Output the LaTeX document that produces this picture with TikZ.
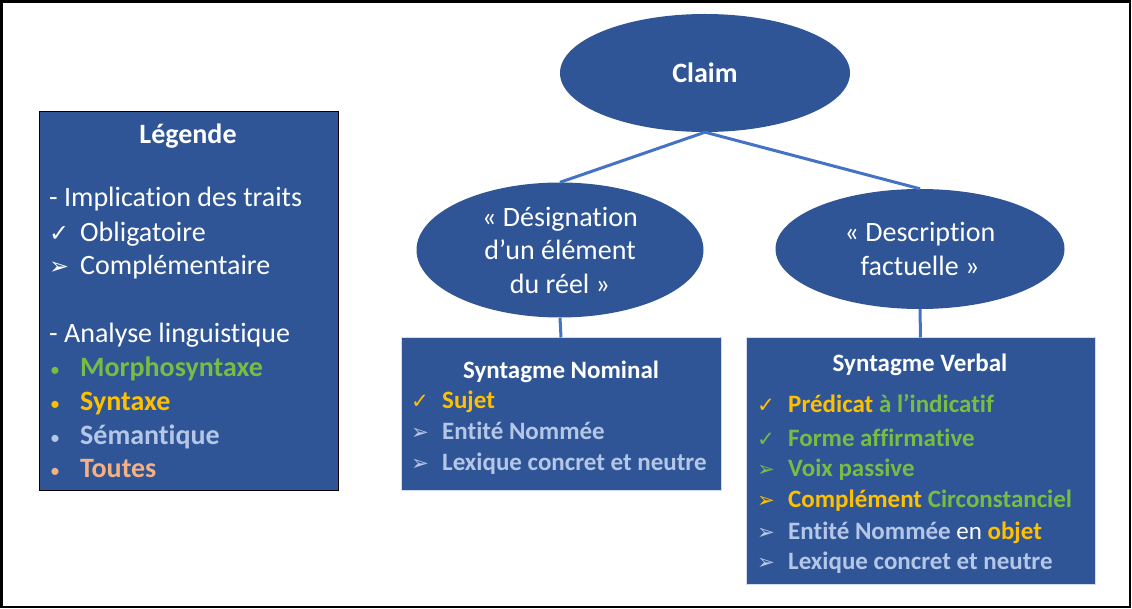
\documentclass[tikz,border=0pt]{standalone}
\usepackage{fontspec}
\setmainfont{Carlito}[Ligatures=NoCommon]
\newfontfamily\symfont[Scale=0.85]{DejaVu Sans}
\usetikzlibrary{shapes.geometric}

\definecolor{bleu}{RGB}{47,85,151}
\definecolor{trait}{RGB}{68,114,196}
\definecolor{vert}{RGB}{118,190,67}
\definecolor{jaune}{RGB}{255,192,0}
\definecolor{gris}{RGB}{180,199,231}
\definecolor{orange}{RGB}{244,177,131}

\newcommand{\oblig}{\makebox[31pt][l]{\symfont ✓}}
\newcommand{\compl}{\makebox[31pt][l]{\symfont ➢}}
\newcommand{\puce}{\makebox[31pt][l]{\hspace{1pt}\fontsize{20}{20}\selectfont•}}

\begin{document}
\begin{tikzpicture}[x=1pt,y=-1pt]
\tikzstyle{lien}=[draw=trait,line width=3pt]
\tikzset{bulle/.style={ellipse,fill=bleu,text=white,align=center,inner sep=0pt,
  font=\fontsize{28}{33.5}\selectfont},
cadre/.style={fill=bleu,draw=#1,line width=1pt,inner sep=0pt},
cadre/.default={bleu},
ligne/.style={anchor=base west,inner sep=0pt,text=white,font=\fontsize{28}{34}\selectfont},
item/.style={anchor=base west,inner sep=0pt,text=gris,font=\fontsize{25}{30}\selectfont\bfseries}}
\useasboundingbox (0,0) rectangle (1132,609);
\draw[line width=2.5pt] (1.5,1.5) rectangle (1130,607);

% les bulles
\node[bulle,minimum width=290pt,minimum height=118pt,font=\fontsize{28}{34}\selectfont\bfseries] (claim) at (705,73) {Claim};
\node[bulle,minimum width=287pt,minimum height=135pt] (design) at (560,250) {« Désignation\\d’un élément\\du réel »};
\node[bulle,minimum width=289pt,minimum height=120pt] (descr) at (920,249) {« Description\\factuelle »};

% les cadres
\node[cadre=black,minimum width=299pt,minimum height=378pt] (legende) at (188.5,301) {};
\node[cadre=gris!60,minimum width=320pt,minimum height=152pt] (nominal) at (561,414) {};
\node[cadre=gris!60,minimum width=349pt,minimum height=246pt] (verbal) at (920.5,461) {};

\draw[lien] (claim.south) -- (design.north);
\draw[lien] (claim.south) -- (descr.north);
\draw[lien] (design.south) -- (nominal.north);
\draw[lien] (descr.south) -- (verbal.north);

% legende
\node[ligne,anchor=base,font=\fontsize{28}{34}\selectfont\bfseries] (leg0) at (188,144) {Légende};
\node[ligne] (leg1) at (49,207) {- Implication des traits};
\node[ligne] (leg2) at (49,242) {\oblig Obligatoire};
\node[ligne] (leg3) at (49,275) {\compl Complémentaire};
\node[ligne] (leg4) at (49,343) {- Analyse linguistique};
\node[ligne,text=vert] (leg5) at (49,377) {\puce\textbf{Morphosyntaxe}};
\node[ligne,text=jaune] (leg6) at (49,410) {\puce\textbf{Syntaxe}};
\node[ligne,text=gris] (leg7) at (49,444) {\puce\textbf{Sémantique}};
\node[ligne,text=orange] (leg8) at (49,477) {\puce\textbf{Toutes}};

% syntagme nominal
\node[item,anchor=base,text=white] (sn0) at (561,378) {Syntagme Nominal};
\node[item,text=jaune] (sn1) at (411,408) {\oblig Sujet};
\node[item] (sn2) at (411,439) {\compl Entité Nommée};
\node[item] (sn3) at (411,470) {\compl Lexique concret et neutre};

% syntagme verbal
\node[item,anchor=base,text=white] (sv0) at (920,371) {Syntagme Verbal};
\node[item,text=jaune] (sv1) at (757,412) {\oblig Prédicat \textcolor{vert}{à l’indicatif}};
\node[item,text=vert] (sv2) at (757,446) {\oblig Forme affirmative};
\node[item,text=vert] (sv3) at (757,476) {\compl Voix passive};
\node[item,text=jaune] (sv4) at (757,507) {\compl Complément \textcolor{vert}{Circonstanciel}};
\node[item] (sv5) at (757,539) {\compl Entité Nommée \textcolor{white}{\mdseries en} \textcolor{jaune}{objet}};
\node[item] (sv6) at (757,569) {\compl Lexique concret et neutre};

\end{tikzpicture}
\end{document}
